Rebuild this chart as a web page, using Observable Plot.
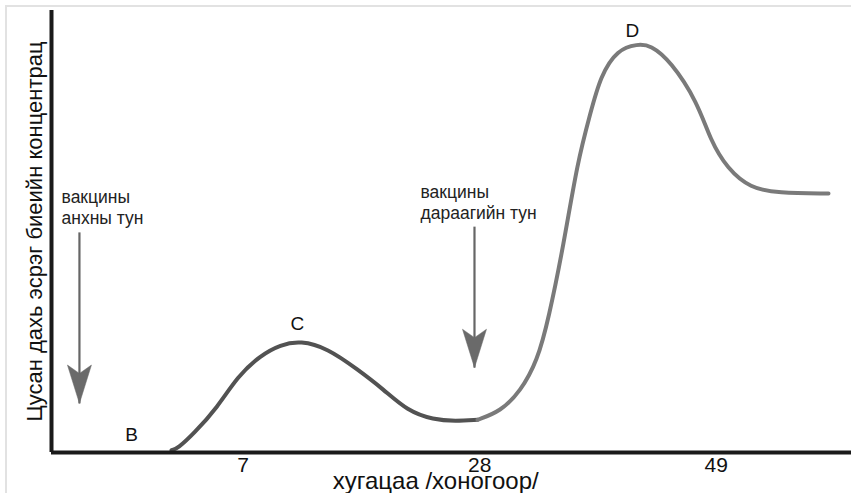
<!DOCTYPE html>
<html>
<head>
<meta charset="utf-8">
<script src="https://cdn.jsdelivr.net/npm/d3@7"></script>
<script src="https://cdn.jsdelivr.net/npm/@observablehq/plot@0.6"></script>
<style>
  body { margin: 0; background: #fff; }
  #wrap { position: relative; width: 851px; height: 493px; overflow: hidden; }
  #frame { position: absolute; left: 5px; top: 5px; right: -2px; bottom: -2px;
           border-top: 2px solid #e2e2e2; border-left: 2px solid #e2e2e2; pointer-events: none; }
</style>
</head>
<body>
<div id="wrap"><div id="chart"></div><div id="frame"></div></div>
<script>
// Primary response (first dose) — days vs antibody level (arbitrary units)
const primaryDays  = [0.65, 1.2, 2.6, 4.73, 6.51, 8.55, 10.32, 12.1, 14.49, 17.16, 19.46, 21.59, 23.9, 25.85, 27.81];
const primaryLevel = [0.5, 0.9, 4.2, 10.2, 17.2, 22.0, 24.4, 25.3, 23.6, 18.8, 14.3, 9.4, 7.4, 7.1, 7.4];

// Secondary response (booster dose)
const boosterDays  = [27.81, 29.85, 31.62, 33.13, 34.11, 35.44, 36.68, 37.83, 38.72, 40.23, 42.01, 43.16, 44.93, 47.33, 48.48, 49.99, 52.03, 54.43, 58.96, 58.96];
const boosterLevel = [7.4, 9.3, 13.8, 20.8, 30.2, 46.8, 65.8, 76.8, 85.2, 91.2, 92.4, 92.2, 88.6, 79.3, 70.6, 64.2, 59.8, 58.7, 58.6, 58.6];

// Tick labels on the time axis
const tickDays = [7, 28, 49];

// Dose arrows: day, start level, tip level
const doseDays   = [-7.52, 27.54];
const doseTop    = [49.8, 51.1];
const doseTip    = [11.1, 19.2];
const doseLabels = ["вакцины\nанхны тун", "вакцины\nдараагийн тун"];
const doseLabelDay   = [-9.11, 22.75];
const doseLabelLevel = [51.8, 52.9];

// Point letters
const pointNames = ["B", "C", "D"];
const pointDays  = [-2.9, 11.83, 41.56];
const pointLevel = [2.7, 27.8, 94.1];

const xTitle = "хугацаа /хоногоор/";
const yTitle = "Цусан дахь эсрэг биеийн концентрац";

const primary = primaryDays.map((d, i) => ({day: d, level: primaryLevel[i]}));
const booster = boosterDays.map((d, i) => ({day: d, level: boosterLevel[i]}));
const doses = doseDays.map((d, i) => ({day: d, top: doseTop[i], tip: doseTip[i], label: doseLabels[i], lx: doseLabelDay[i], ly: doseLabelLevel[i]}));
const points = pointNames.map((n, i) => ({name: n, day: pointDays[i], level: pointLevel[i]}));

const arrowHead = {
  draw(ctx, size) {
    const r = Math.sqrt(size / Math.PI);
    ctx.moveTo(0, 0);
    ctx.lineTo(-r, -3.2 * r);
    ctx.lineTo(0, -2.5 * r);
    ctx.lineTo(r, -3.2 * r);
    ctx.closePath();
  }
};

const chart = Plot.plot({
  width: 851,
  height: 493,
  marginLeft: 51,
  marginRight: 0,
  marginTop: 10,
  marginBottom: 41,
  x: {domain: [-10, 61]},
  y: {domain: [0, 100], axis: null},
  style: {fontFamily: "'Liberation Sans', Arial, sans-serif", background: "transparent", color: "#111"},
  marks: [
    Plot.line(primary, {x: "day", y: "level", curve: "basis", stroke: "#525252", strokeWidth: 4}),
    Plot.line(booster, {x: "day", y: "level", curve: "basis", stroke: "#7a7a7a", strokeWidth: 4}),
    Plot.link(doses, {x1: "day", x2: "day", y1: "top", y2: "tip", stroke: "#666", strokeWidth: 2.2}),
    Plot.dot(doses, {x: "day", y: "tip", symbol: arrowHead, r: 12, fill: "#6a6a6a", stroke: "#6a6a6a", strokeWidth: 0.5}),
    Plot.text(doses, {x: "lx", y: "ly", text: "label", textAnchor: "start", lineAnchor: "bottom", lineHeight: 1.17, fontSize: 17.5, fill: "#222"}),
    Plot.text(points, {x: "day", y: "level", text: "name", textAnchor: "middle", lineAnchor: "bottom", fontSize: 19, fill: "#111"}),
    Plot.ruleX([-10], {y1: 0, y2: 100, stroke: "#1a1a1a", strokeWidth: 4}),
    Plot.ruleY([0], {stroke: "#1a1a1a", strokeWidth: 4}),
    Plot.axisX(tickDays, {tickSize: 0, tickPadding: 5, fontSize: 21, label: null, fill: "#111"}),
    Plot.text([xTitle], {x: 24.1, frameAnchor: "bottom", dy: 36, lineAnchor: "bottom", fontSize: 24, fill: "#111"}),
    Plot.text([yTitle], {frameAnchor: "left", dx: -10, rotate: -90, textAnchor: "middle", lineAnchor: "bottom", fontSize: 22, fill: "#111"})
  ]
});
document.getElementById("chart").appendChild(chart);
</script>
</body>
</html>
